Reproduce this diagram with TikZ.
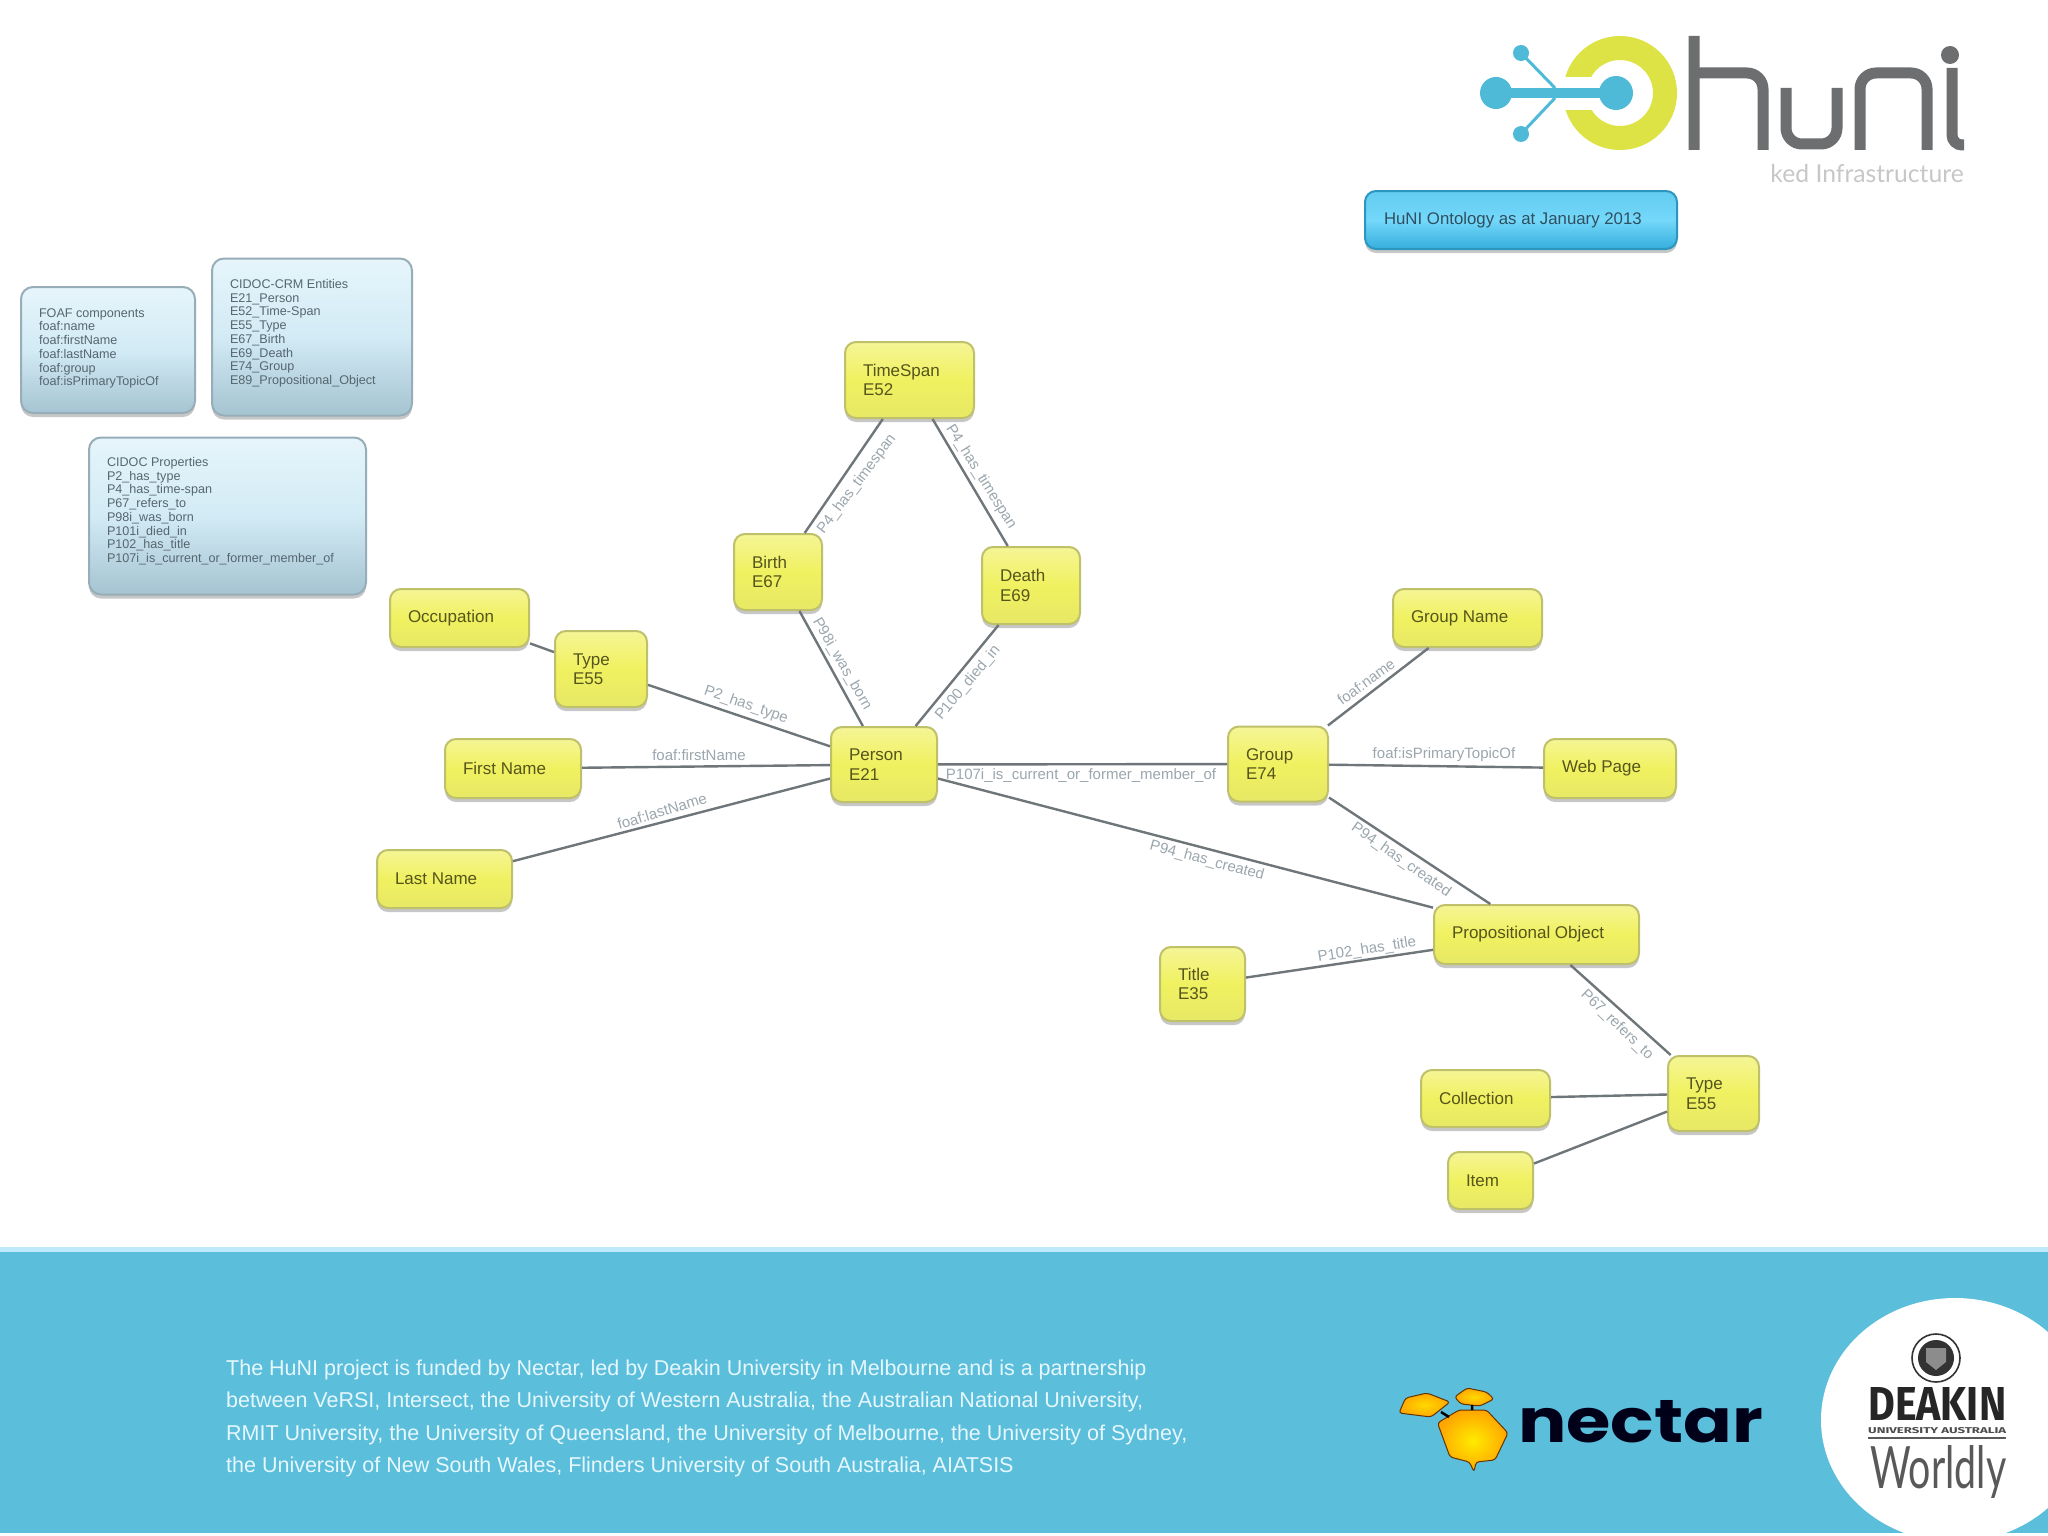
\documentclass[tikz,border=0pt]{standalone}
\usepackage{fontspec}
\usepackage{graphicx}
\setmainfont{Liberation Sans}
\newfontfamily\latofont{Lato}
\newfontfamily\firafont{Fira Sans}
\newfontfamily\popfont{Poppins}
\usetikzlibrary{shadows}
\definecolor{edgec}{HTML}{6F767A}
\definecolor{labc}{HTML}{9BA6AD}
\definecolor{ytext}{HTML}{55551C}
\definecolor{band}{HTML}{5BBEDB}
\definecolor{ringc}{HTML}{DDE344}
\definecolor{hubc}{HTML}{4FBAD8}
\definecolor{hunic}{HTML}{6D6E70}
\definecolor{ytop}{HTML}{F5F596}
\definecolor{ymid}{HTML}{F0F160}
\definecolor{ybot}{HTML}{E7E865}
\definecolor{yline}{HTML}{BFC06A}
\definecolor{itop}{HTML}{E6F5FB}
\definecolor{imid}{HTML}{D2EBF5}
\definecolor{ibot}{HTML}{A5C3D1}
\definecolor{iline}{HTML}{97AEB9}
\definecolor{itext}{HTML}{56666F}
\definecolor{ttop}{HTML}{62CCF0}
\definecolor{tmid}{HTML}{74D8FA}
\definecolor{tbot}{HTML}{35AEDD}
\definecolor{tline}{HTML}{2C97BE}
\definecolor{ttext}{HTML}{2F4F60}
\tikzset{
 ybox/.style 2 args={draw=yline,line width=2pt,rounded corners=11pt,
   top color=ytop,bottom color=ybot,middle color=ymid,
   general shadow={shadow yshift=-4pt,fill=black,opacity=.22},
   text=ytext,align=flush left,inner xsep=18pt,inner ysep=0pt,
   text width=\dimexpr#1pt-36pt\relax,minimum height=#2pt,
   font=\fontsize{17}{19.5}\selectfont},
 infobox/.style 2 args={draw=iline,line width=2pt,rounded corners=12pt,
   top color=itop,bottom color=ibot,middle color=imid,
   general shadow={shadow yshift=-4pt,fill=black,opacity=.22},
   text=itext,align=flush left,inner xsep=18pt,inner ysep=0pt,
   text width=\dimexpr#1pt-36pt\relax,minimum height=#2pt,
   font=\fontsize{12.6}{13.75}\selectfont},
 elabel/.style={text=labc,inner sep=0pt,font=\fontsize{15}{16}\selectfont},
 edge/.style={draw=edgec,line width=2.4pt},
}
\begin{document}
\begin{tikzpicture}[x=1pt,y=-1pt]
\useasboundingbox (0,0) rectangle (2048,1536);
\fill[white] (0,0) rectangle (2048,1536);
% footer band
\fill[band] (0,1247) rectangle (2048,1533);
\fill[cyan!25!white] (0,1247) rectangle (2048,1252);
\begin{scope}
\clip (0,1247) rectangle (2048,1533);
\fill[white] (1955,1420) ellipse [x radius=134,y radius=122];
\end{scope}
\node[anchor=north west,text=white!90!cyan,align=left,inner sep=0pt,font=\fontsize{21.5}{32.2}\selectfont] (footer) at (226,1360)
 {The HuNI project is funded by Nectar, led by Deakin University in Melbourne and is a partnership\\
  between VeRSI, Intersect, the University of Western Australia, the Australian National University,\\
  RMIT University, the University of Queensland, the University of Melbourne, the University of Sydney,\\
  the University of New South Wales, Flinders University of South Australia, AIATSIS};
% nectar logo
\draw[black!60!orange,line width=1pt,inner color=yellow!85!orange,outer color=orange!70!yellow,rounded corners=3pt]
 (1437.5,1423)--(1459,1410)--(1486.5,1410)--(1508,1433)--(1495,1460)--(1476,1462)--(1474,1472)--(1469.5,1462)--(1450,1457)--cycle;
\draw[black!60!orange,line width=1pt,inner color=yellow!70!orange,outer color=orange!70!yellow,rounded corners=3pt]
 (1399,1413)--(1405.5,1398)--(1427,1393)--(1450,1402)--(1431,1417)--cycle;
\draw[black!60!orange,line width=1pt,inner color=yellow!70!orange,outer color=orange!70!yellow,rounded corners=3pt]
 (1454.5,1397)--(1467,1388)--(1486.5,1392)--(1494,1399)--(1480,1406)--(1461,1404)--cycle;
\draw[black,line width=2.5pt] (1441,1412)--(1449,1417) (1472,1405)--(1472,1410);
\node[anchor=north west,inner sep=0pt,text=black!90!blue] (nectarword) at (1518,1400)
 {\resizebox{245pt}{42pt}{\popfont\bfseries nectar}};
% deakin logo
\draw[black!80,line width=1.6pt] (1936,1358) circle (24);
\fill[black!80] (1936,1358) circle (18);
\fill[black!45] (1926,1348)--(1946,1348)--(1946,1362)--(1936,1370)--(1926,1362)--cycle;
\node[anchor=north west,inner sep=0pt,text=black!85] (deakin) at (1868,1387)
 {\resizebox{138pt}{33pt}{\firafont\bfseries DEAKIN}};
\node[anchor=north west,inner sep=0pt,text=black!70] (deakinu) at (1868,1427)
 {\resizebox{138pt}{6pt}{\firafont\bfseries UNIVERSITY AUSTRALIA}};
\draw[black!65,line width=1.5pt] (1868,1438)--(2006,1438);
\node[anchor=north west,inner sep=0pt,text=black!65] (worldly) at (1870,1445)
 {\resizebox{136pt}{43pt}{\latofont Worldly}};
% huni logo
\fill[ringc,even odd rule] (1620,93) circle (57) (1620,93) circle (33);
\fill[white] (1555,77) rectangle (1600,110);
\draw[hubc,line width=3pt] (1555,88)--(1521,53) (1555,98)--(1521,134);
\draw[hubc,line width=10pt] (1496,93)--(1616,93);
\fill[hubc] (1496,93) circle (16) (1616,93) circle (17) (1521,53) circle (8) (1521,134) circle (8);
\draw[hunic,line width=11pt,rounded corners=16pt]
 (1694,36)--(1694,150) (1694,73)--(1763,73)--(1763,150);
\draw[hunic,line width=11pt,rounded corners=16pt] (1786,88)--(1786,144)--(1837,144)--(1837,88);
\draw[hunic,line width=11pt,rounded corners=16pt] (1860,150)--(1860,73)--(1927,73)--(1927,150);
\draw[hunic,line width=11pt,rounded corners=10pt] (1952,68)--(1952,145)--(1964,145);
\fill[hunic] (1950,55) circle (9);
\node[anchor=east,inner sep=0pt,text=black!22,font=\latofont\fontsize{24.7}{25}\selectfont] (tagline) at (1964,174) {ked Infrastructure};
% title box
\node[ybox={310}{58},draw=tline,top color=ttop,bottom color=tbot,middle color=tmid,text=ttext,inner xsep=19pt,font=\fontsize{16.8}{19}\selectfont] (ontology) at (1521,220) {HuNI Ontology as at January 2013};
% info boxes
\node[infobox={174}{126}] (foaf) at (108,350)
 {FOAF components\\foaf:name\\foaf:firstName\\foaf:lastName\\foaf:group\\foaf:isPrimaryTopicOf\rule[-6pt]{0pt}{6pt}};
\node[infobox={200}{157}] (crm) at (312,337)
 {CIDOC-CRM Entities\\E21\_Person\\E52\_Time-Span\\E55\_Type\\E67\_Birth\\E69\_Death\\E74\_Group\\E89\_Propositional\_Object\rule[-10pt]{0pt}{10pt}};
\node[infobox={277}{157}] (props) at (227.5,516)
 {CIDOC Properties\\P2\_has\_type\\P4\_has\_time-span\\P67\_refers\_to\\P98i\_was\_born\\P101i\_died\_in\\P102\_has\_title\\P107i\_is\_current\_or\_former\_member\_of\rule[-12pt]{0pt}{12pt}};
% graph nodes
\node[ybox={129}{76}] (timespan) at (909.5,380) {TimeSpan\\E52};
\node[ybox={88}{76}] (birth) at (778,572) {Birth\\E67};
\node[ybox={98}{77}] (death) at (1031,585.5) {Death\\E69};
\node[ybox={106}{75}] (person) at (884,764.5) {Person\\E21};
\node[ybox={139}{58}] (occupation) at (459.5,618) {Occupation};
\node[ybox={92}{76}] (type1) at (601,669) {Type\\E55};
\node[ybox={136}{59}] (firstname) at (513,768.5) {First Name};
\node[ybox={135}{58}] (lastname) at (444.5,879) {Last Name};
\node[ybox={100}{75}] (group) at (1278,764) {Group\\E74};
\node[ybox={149}{58}] (groupname) at (1467.5,618) {Group Name};
\node[ybox={132}{59}] (webpage) at (1610,768.5) {Web Page};
\node[ybox={205}{59}] (propobj) at (1536.5,934.5) {Propositional Object};
\node[ybox={85}{74}] (title) at (1202.5,984) {Title\\E35};
\node[ybox={129}{57}] (collection) at (1485.5,1098.5) {Collection};
\node[ybox={91}{75}] (type2) at (1713.5,1093.5) {Type\\E55};
\node[ybox={85}{57}] (item) at (1490.5,1180.5) {Item};
% connectors
\draw[edge] (timespan)--(birth);
\draw[edge] (timespan)--(death);
\draw[edge] (birth)--(person);
\draw[edge] (death)--(person);
\draw[edge] (occupation)--(type1);
\draw[edge] (type1)--(person);
\draw[edge] (firstname)--(person);
\draw[edge] (lastname)--(person);
\draw[edge] (person)--(group);
\draw[edge] (person)--(propobj);
\draw[edge] (group)--(groupname);
\draw[edge] (group)--(webpage);
\draw[edge] (group)--(propobj);
\draw[edge] (title)--(propobj);
\draw[edge] (propobj)--(type2);
\draw[edge] (collection)--(type2);
\draw[edge] (item)--(type2);
% connector labels
\node[elabel,rotate=53] (l1) at (857,484) {P4\_has\_timespan};
\node[elabel,rotate=-58] (l2) at (981,477) {P4\_has\_timespan};
\node[elabel,rotate=-60] (l3) at (842,664) {P98i\_was\_born};
\node[elabel,rotate=50] (l4) at (968,683) {P100\_died\_in};
\node[elabel,rotate=-19] (l5) at (746,705) {P2\_has\_type};
\node[elabel] (l6) at (699,755) {foaf:firstName};
\node[elabel,rotate=17] (l7) at (662,811) {foaf:lastName};
\node[elabel] (l8) at (1081,776) {P107i\_is\_current\_or\_former\_member\_of};
\node[elabel,rotate=-15] (l9) at (1207,861) {P94\_has\_created};
\node[elabel,rotate=-35] (l10) at (1401,860) {P94\_has\_created};
\node[elabel,rotate=36] (l11) at (1366,682) {foaf:name};
\node[elabel] (l12) at (1444,755) {foaf:isPrimaryTopicOf};
\node[elabel,rotate=9] (l13) at (1367,950) {P102\_has\_title};
\node[elabel,rotate=-44] (l14) at (1617,1025) {P67\_refers\_to};
\end{tikzpicture}
\end{document}
